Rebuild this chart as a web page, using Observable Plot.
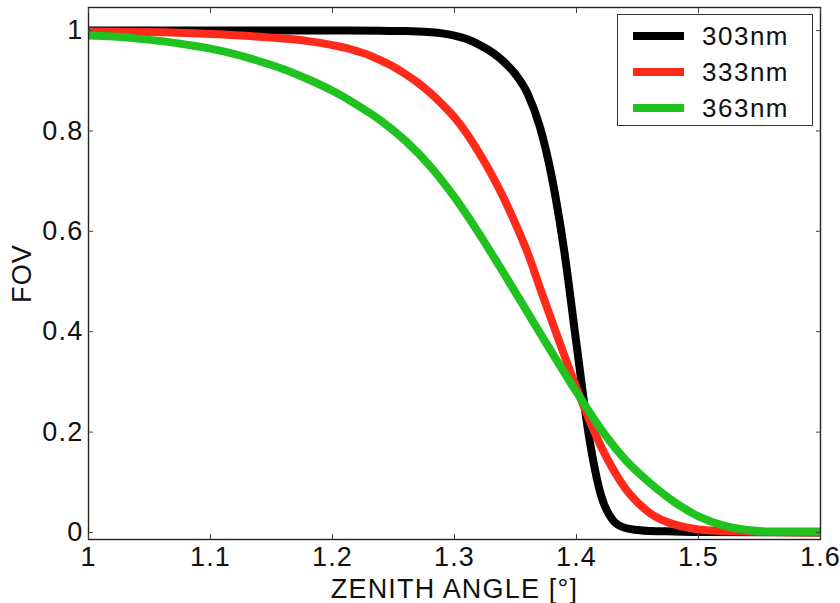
<!DOCTYPE html>
<html>
<head>
<meta charset="utf-8">
<script src="https://cdn.jsdelivr.net/npm/d3@7"></script>
<script src="https://cdn.jsdelivr.net/npm/@observablehq/plot@0.6"></script>
<style>
  html, body { margin: 0; padding: 0; background: #fff; }
  #wrap { position: relative; width: 840px; height: 603px; font-family: "Liberation Sans", Arial, sans-serif; }
  #legend { position: absolute; left: 617px; top: 14px; width: 194px; height: 110px; border: 1px solid #333; background: #fff; box-sizing: content-box; }
  .swatch { position: absolute; left: 15px; width: 51px; height: 8px; }
  .lab { position: absolute; left: 84px; font-size: 26px; letter-spacing: 1.5px; color: #111; white-space: nowrap; line-height: 30px; }
</style>
</head>
<body>
<div id="wrap"><div id="chart"></div><div id="legend"></div></div>
<script>
const xTicks = [1, 1.1, 1.2, 1.3, 1.4, 1.5, 1.6];
const yTicks = [0, 0.2, 0.4, 0.6, 0.8, 1];
const seriesNames = ["303nm", "333nm", "363nm"];
const seriesColors = ["#000000", "#ff2a1a", "#1fc21f"];

const angle303 = [1.00, 1.10, 1.20, 1.24, 1.26, 1.27, 1.28, 1.29, 1.30, 1.31, 1.32, 1.33, 1.34, 1.35, 1.36, 1.37, 1.38, 1.39, 1.40, 1.41, 1.42, 1.43, 1.44, 1.45, 1.46, 1.48, 1.50, 1.60];
const fov303   = [1.000, 1.000, 1.000, 0.9995, 0.9990, 0.9982, 0.9968, 0.9945, 0.990, 0.983, 0.972, 0.958, 0.939, 0.913, 0.874, 0.808, 0.705, 0.560, 0.375, 0.195, 0.075, 0.024, 0.009, 0.005, 0.003, 0.002, 0.001, 0.000];

const angle333 = [1.00, 1.05, 1.10, 1.15, 1.18, 1.20, 1.21, 1.22, 1.23, 1.24, 1.25, 1.26, 1.27, 1.28, 1.29, 1.30, 1.31, 1.32, 1.33, 1.34, 1.35, 1.36, 1.37, 1.38, 1.39, 1.40, 1.41, 1.42, 1.43, 1.44, 1.45, 1.46, 1.47, 1.48, 1.49, 1.50, 1.52, 1.55, 1.60];
const fov333   = [0.998, 0.997, 0.993, 0.986, 0.979, 0.971, 0.966, 0.959, 0.951, 0.940, 0.928, 0.913, 0.896, 0.876, 0.853, 0.827, 0.795, 0.757, 0.715, 0.668, 0.615, 0.557, 0.488, 0.420, 0.353, 0.288, 0.227, 0.172, 0.126, 0.088, 0.060, 0.039, 0.025, 0.016, 0.010, 0.006, 0.003, 0.001, 0.000];

const angle363 = [1.00, 1.02, 1.04, 1.06, 1.08, 1.10, 1.12, 1.14, 1.16, 1.18, 1.20, 1.22, 1.24, 1.26, 1.28, 1.30, 1.32, 1.34, 1.36, 1.38, 1.40, 1.42, 1.44, 1.46, 1.48, 1.50, 1.52, 1.54, 1.56, 1.60];
const fov363   = [0.990, 0.988, 0.984, 0.979, 0.972, 0.964, 0.953, 0.939, 0.923, 0.903, 0.880, 0.852, 0.820, 0.780, 0.730, 0.668, 0.596, 0.518, 0.438, 0.358, 0.280, 0.206, 0.145, 0.099, 0.061, 0.032, 0.014, 0.005, 0.002, 0.002];

const angles = [angle303, angle333, angle363];
const fovs = [fov303, fov333, fov363];
const data = seriesNames.flatMap((name, i) => angles[i].map((a, j) => ({series: name, angle: a, fov: fovs[i][j]})));

const fmt = d => String(+d.toFixed(1));

const chart = Plot.plot({
  width: 840,
  height: 603,
  marginLeft: 88,
  marginRight: 20,
  marginTop: 7,
  marginBottom: 64,
  style: {fontFamily: "'Liberation Sans', Arial, sans-serif", fontSize: "27px", letterSpacing: "1.2px", color: "#111", background: "#fff"},
  x: {domain: [1, 1.6]},
  y: {domain: [-0.014, 1.046]},
  color: {domain: seriesNames, range: seriesColors},
  marks: [
    Plot.line(data, {x: "angle", y: "fov", z: "series", stroke: "series", strokeWidth: 8, curve: "monotone-x", clip: true}),
    Plot.frame({stroke: "#222", strokeWidth: 1.4}),
    Plot.axisX({anchor: "bottom", ticks: xTicks, tickFormat: fmt, tickSize: -5, tickPadding: 12, label: "ZENITH ANGLE [°]", labelAnchor: "center", labelArrow: "none", labelOffset: 58, stroke: "#444"}),
    Plot.axisX({anchor: "top", ticks: xTicks, tickFormat: () => "", tickSize: -5, label: null, stroke: "#444"}),
    Plot.axisY({anchor: "left", ticks: yTicks, tickFormat: fmt, tickSize: -5, tickPadding: 10, label: "FOV", labelAnchor: "center", labelArrow: "none", labelOffset: 77, stroke: "#444"}),
    Plot.axisY({anchor: "right", ticks: yTicks, tickFormat: () => "", tickSize: -5, label: null, stroke: "#444"})
  ]
});
document.getElementById("chart").appendChild(chart);

const legend = document.getElementById("legend");
seriesNames.forEach((name, i) => {
  const top = 6 + i * 36;
  const sw = document.createElement("div");
  sw.className = "swatch";
  sw.style.top = (top + 11) + "px";
  sw.style.background = seriesColors[i];
  legend.appendChild(sw);
  const lab = document.createElement("div");
  lab.className = "lab";
  lab.style.top = top + "px";
  lab.textContent = name;
  legend.appendChild(lab);
});
</script>
</body>
</html>
